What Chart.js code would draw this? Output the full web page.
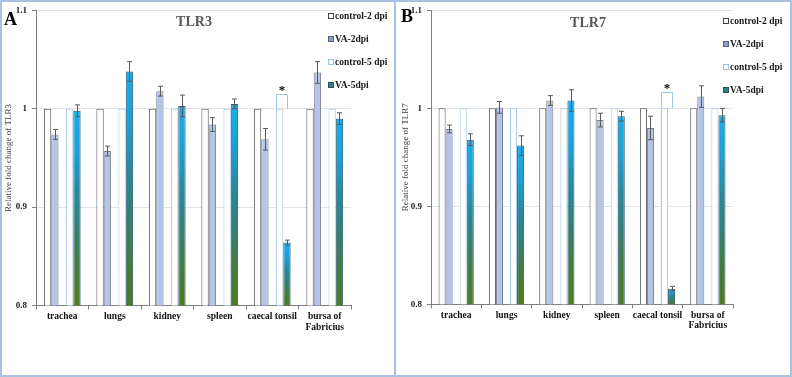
<!DOCTYPE html>
<html>
<head>
<meta charset="utf-8">
<script src="https://cdn.jsdelivr.net/npm/chart.js@4/dist/chart.umd.min.js"></script>
<style>
  html,body{margin:0;padding:0;background:#fff;}
  #wrap{position:relative;width:792px;height:377px;overflow:hidden;}
  .panel{position:absolute;top:0;height:377px;width:395px;}
  #frame{position:absolute;left:0;top:0;width:792px;height:377px;box-sizing:border-box;border:2px solid #a9c2e0;pointer-events:none;}
  #divider{position:absolute;left:394px;top:0;width:2px;height:377px;background:#a9c2e0;}
</style>
</head>
<body>
<div id="wrap">
  <div class="panel" style="left:0"><canvas id="cA" width="395" height="377"></canvas></div>
  <div class="panel" style="left:397px"><canvas id="cB" width="395" height="377"></canvas></div>
  <div id="divider"></div>
  <div id="frame"></div>
</div>
<script>
// ---- data ----
const categories = ['trachea', 'lungs', 'kidney', 'spleen', 'caecal tonsil', ['bursa of', 'Fabricius']];
const seriesNames = ['control-2 dpi', 'VA-2dpi', 'control-5 dpi', 'VA-5dpi'];
const yTicks = [0.8, 0.9, 1.0, 1.1];

// TLR3 (panel A)
const tlr3Control2 = [1, 1, 1, 1, 1, 1];
const tlr3VA2      = [0.974, 0.957, 1.018, 0.984, 0.969, 1.037];
const tlr3VA2Err   = [0.005, 0.005, 0.005, 0.007, 0.011, 0.011];
const tlr3Control5 = [1, 1, 1, 1, 1, 1];
const tlr3VA5      = [0.998, 1.038, 1.003, 1.005, 0.864, 0.990];
const tlr3VA5Err   = [0.006, 0.010, 0.011, 0.005, 0.0025, 0.006];

// TLR7 (panel B)
const tlr7Control2 = [1, 1, 1, 1, 1, 1];
const tlr7VA2      = [0.979, 1.001, 1.008, 0.988, 0.980, 1.012];
const tlr7VA2Err   = [0.004, 0.006, 0.005, 0.007, 0.012, 0.011];
const tlr7Control5 = [1, 1, 1, 1, 1, 1];
const tlr7VA5      = [0.968, 0.962, 1.008, 0.992, 0.816, 0.993];
const tlr7VA5Err   = [0.006, 0.010, 0.011, 0.005, 0.0023, 0.007];

const sigIndex = 4; // caecal tonsil, marked with *

// ---- helpers ----
const SERIF = '"Liberation Serif", "Times New Roman", serif';

function va5Gradient(ctx) {
  const chart = ctx.chart;
  const area = chart.chartArea;
  if (!area || ctx.raw == null) return '#2a8fb0';
  const y = chart.scales.y;
  const top = y.getPixelForValue(ctx.raw);
  const bot = y.getPixelForValue(y.min);
  const g = chart.ctx.createLinearGradient(0, top, 0, bot);
  g.addColorStop(0, '#18afeb');
  g.addColorStop(0.2, '#1ba2da');
  g.addColorStop(0.42, '#278a9e');
  g.addColorStop(0.62, '#357f72');
  g.addColorStop(0.82, '#477b3c');
  g.addColorStop(1, '#517a22');
  return g;
}

const errorBarPlugin = {
  id: 'errorBars',
  afterDatasetsDraw(chart) {
    const c = chart.ctx;
    const y = chart.scales.y;
    c.save();
    c.strokeStyle = '#5a5a5a';
    c.lineWidth = 1;
    chart.data.datasets.forEach((ds, di) => {
      if (!ds.errors) return;
      const meta = chart.getDatasetMeta(di);
      meta.data.forEach((bar, i) => {
        const v = ds.data[i], e = ds.errors[i];
        if (v == null || e == null) return;
        const x = Math.round(bar.x) + 0.5;
        const t = y.getPixelForValue(v + e);
        const b = y.getPixelForValue(v - e);
        c.beginPath();
        c.moveTo(x, t); c.lineTo(x, b);
        c.moveTo(x - 2.5, t); c.lineTo(x + 2.5, t);
        c.moveTo(x - 2.5, b); c.lineTo(x + 2.5, b);
        c.stroke();
      });
    });
    c.restore();
  }
};

const decorPlugin = {
  id: 'decor',
  afterDraw(chart, args, opts) {
    const c = chart.ctx;
    const y = chart.scales.y;
    c.save();
    // panel letter
    c.fillStyle = '#000';
    c.font = 'bold 18px ' + SERIF;
    c.textAlign = 'left'; c.textBaseline = 'middle';
    c.fillText(opts.letter, opts.letterX, opts.letterY);
    // title
    c.fillStyle = '#595959';
    c.font = 'bold 14px ' + SERIF;
    c.textAlign = 'center';
    c.fillText(opts.title, opts.titleX, opts.titleY);
    // legend
    c.font = 'bold 9.5px ' + SERIF;
    c.textAlign = 'left';
    const styles = [
      {fill: '#ffffff', stroke: '#404040'},
      {fill: '#8d9ec0', stroke: '#55607a'},
      {fill: '#ffffff', stroke: '#9dc3e6'},
      {fill: '#2f7f8c', stroke: '#2a5560'}
    ];
    seriesNames.forEach((name, i) => {
      const ly = opts.legendY[i];
      c.fillStyle = styles[i].fill;
      c.fillRect(opts.legendX + 0.5, ly - 2.5, 5, 5);
      c.strokeStyle = styles[i].stroke;
      c.lineWidth = 1;
      c.strokeRect(opts.legendX + 0.5, ly - 2.5, 5, 5);
      c.fillStyle = '#1a1a1a';
      c.fillText(name, opts.legendX + 7, ly + 0.5);
    });
    // significance bracket on control-5 / VA-5 at caecal tonsil
    const m3 = chart.getDatasetMeta(3).data[sigIndex];
    const m4 = chart.getDatasetMeta(4).data[sigIndex];
    const x0 = Math.round(m3.x - m3.width / 2) + 0.5;
    const x1 = Math.round(m4.x) + 0.5;
    const yb = y.getPixelForValue(1.0);
    const yt = Math.round(y.getPixelForValue(opts.bracketTop)) + 0.5;
    c.strokeStyle = '#9dc3e6';
    c.lineWidth = 1;
    c.beginPath();
    c.moveTo(x0, yb); c.lineTo(x0, yt); c.lineTo(x1, yt); c.lineTo(x1, yb);
    c.stroke();
    c.fillStyle = '#000';
    c.font = 'bold 13px ' + SERIF;
    c.textAlign = 'center';
    c.fillText('*', (x0 + x1) / 2, yt - 4);
    c.restore();
  }
};

function makeChart(id, cfg) {
  const W = 395, H = 377;
  return new Chart(document.getElementById(id), {
    type: 'bar',
    data: {
      labels: categories,
      datasets: [
        {label: seriesNames[0], data: cfg.c2, backgroundColor: '#ffffff', borderColor: '#555555', borderWidth: 1},
        {label: seriesNames[1], data: cfg.va2, errors: cfg.va2Err, backgroundColor: '#b4c6e7', borderColor: '#7a7f8c', borderWidth: 1},
        {label: '', data: categories.map(() => null)},
        {label: seriesNames[2], data: cfg.c5, backgroundColor: '#ffffff', borderColor: '#a6c8e8', borderWidth: 1},
        {label: seriesNames[3], data: cfg.va5, errors: cfg.va5Err, backgroundColor: va5Gradient, borderColor: '#2b5d73', borderWidth: 1}
      ]
    },
    options: {
      responsive: false,
      animation: false,
      devicePixelRatio: 1,
      layout: {padding: {left: 0, top: cfg.top, right: W - cfg.right, bottom: 0}},
      datasets: {bar: {barPercentage: 1.0, categoryPercentage: 0.7}},
      plugins: {
        legend: {display: false},
        title: {display: false},
        tooltip: {enabled: false},
        decor: cfg.decor
      },
      scales: {
        x: {
          grid: {offset: true, drawOnChartArea: false, tickLength: 4, tickColor: '#7f7f7f'},
          border: {color: '#7f7f7f', width: 1},
          ticks: {color: '#111', padding: 2, maxRotation: 0, autoSkip: false,
                  font: {family: SERIF, size: 9.5, weight: 'bold', lineHeight: 1.1}},
          afterFit: s => { s.height = H - cfg.bottom; }
        },
        y: {
          min: 0.8, max: 1.1, beginAtZero: false,
          afterBuildTicks: s => { s.ticks = yTicks.map(v => ({value: v})); },
          grid: {color: '#dde4ec', tickLength: 4, tickColor: '#7f7f7f', lineWidth: 1},
          border: {color: '#7f7f7f', width: 1},
          ticks: {color: '#222', padding: 5,
                  font: {family: SERIF, size: 9, weight: 'bold'},
                  callback: v => (Math.round(v * 10) / 10).toString()},
          title: {display: true, text: cfg.yTitle, color: '#404040', padding: {top: 3, bottom: 0},
                  font: {family: SERIF, size: 9, weight: 'normal'}},
          afterFit: s => { s.width = cfg.left; }
        }
      }
    },
    plugins: [errorBarPlugin, decorPlugin]
  });
}

makeChart('cA', {
  c2: tlr3Control2, va2: tlr3VA2, va2Err: tlr3VA2Err, c5: tlr3Control5, va5: tlr3VA5, va5Err: tlr3VA5Err,
  left: 36, right: 351, top: 10.5, bottom: 305.5,
  yTitle: 'Relative fold change of TLR3',
  decor: {letter: 'A', letterX: 4, letterY: 20, title: 'TLR3', titleX: 194, titleY: 22,
          legendX: 328, legendY: [16, 39, 62, 85], bracketTop: 1.015}
});

makeChart('cB', {
  c2: tlr7Control2, va2: tlr7VA2, va2Err: tlr7VA2Err, c5: tlr7Control5, va5: tlr7VA5, va5Err: tlr7VA5Err,
  left: 34, right: 336, top: 7, bottom: 304.3,
  yTitle: 'Relative fold change of TLR7',
  decor: {letter: 'B', letterX: 4, letterY: 17, title: 'TLR7', titleX: 191, titleY: 23,
          legendX: 326, legendY: [21, 44, 67, 90], bracketTop: 1.017}
});
</script>
</body>
</html>
